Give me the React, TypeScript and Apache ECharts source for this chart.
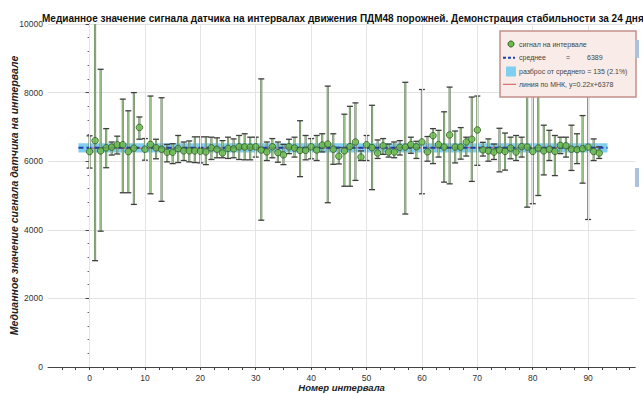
import React, { useEffect, useRef } from 'react';
import * as echarts from 'echarts';

const TITLE =
  'Медианное значение сигнала датчика на интервалах движения ПДМ48 порожней. Демонстрация стабильности за 24 дня';
const Y_NAME = 'Медианное значение сигнала датчика на интервале';
const X_NAME = 'Номер интервала';

// median value per interval (index 0..92)
const MEDIANS = [
  6280, 6600, 6300, 6390, 6410, 6480, 6480, 6280, 6380, 6985,
  6350, 6490, 6390, 6350, 6260, 6260, 6370, 6300, 6300, 6300,
  6290, 6270, 6390, 6350, 6240, 6375, 6360, 6420, 6415, 6410,
  6420, 6325, 6270, 6420, 6250, 6185, 6420, 6385, 6315, 6316,
  6420, 6325, 6470, 6500, 6350, 6145, 6300, 6425, 6560, 6120,
  6480, 6395, 6238, 6450, 6267, 6267, 6405, 6413, 6485, 6420,
  6560, 6275, 6745, 6485, 6413, 6765, 6413, 6413, 6560, 6640,
  6910, 6330, 6300, 6265, 6325, 6285, 6384, 6265, 6425, 6413,
  6286, 6384, 6300, 6350, 6286, 6462, 6450, 6350, 6340, 6365,
  6413, 6286, 6238,
];
// upper end of the spread per interval
const HIGHS = [
  6740, 10300, 8680, 6950, 6560, 6730, 7810, 7470, 8000, 7290,
  6660, 7900, 6640, 7850, 6490, 6510, 6750, 6560, 6590, 6710,
  6710, 6710, 6700, 6680, 6600, 6700, 6650, 6750, 6800, 6700,
  6700, 8400, 6560, 6660, 6560, 6490, 6640, 6700, 7180, 6750,
  6660, 6750, 6800, 8190, 6800, 6400, 7370, 7600, 7700, 6300,
  6750, 7630, 6620, 6660, 6500, 6560, 6600, 8300, 6700, 6580,
  8090, 6720, 6950, 6900, 7440, 8160, 6880, 6980, 6700, 7870,
  7900, 6550, 6650, 6500, 6960, 6820, 6700, 6750, 6700, 8600,
  8500, 8300, 7050, 6900, 6750, 6700, 6700, 7050, 6800, 7330,
  8400, 6650, 6420,
];
// lower end of the spread per interval
const LOWS = [
  5800, 3100, 3960, 5810, 6180, 6210, 5080, 5080, 4740, 6640,
  6030, 5050, 6070, 4830, 5980, 5930, 5960, 6020, 5980, 5960,
  5950, 5900, 6050, 6100, 6100, 6080, 6100, 6050, 6040, 6040,
  6120, 4280, 6020, 6100, 5970, 5900, 6220, 6120, 5550, 6040,
  6070, 6020, 6270, 4790, 5910, 5920, 5270, 5270, 5440, 6020,
  6020, 5170, 6080, 6200, 6120, 6100, 6180, 4460, 6230, 6080,
  5050, 6000, 5930, 6120, 5390, 5340, 5950, 6060, 6150, 5410,
  5880, 6150, 6000, 6050, 5690, 5740, 6070, 6020, 6120, 4660,
  4760, 5000, 5600, 6020, 5580, 6220, 6120, 5730, 5930, 5360,
  4300, 6020, 6080,
];

const MEAN = 6389;
const SPREAD = 135;
const SPREAD_PCT = '2.1%';
const FIT_SLOPE = 0.22;
const FIT_INTERCEPT = 6378;
const BAND_X = [-2, 93.5];
const X_GRID = [0, 10, 20, 30, 40, 50, 60, 70, 80, 90];
const Y_TICKS = { min: 0, max: 10000, interval: 2000 };
const X_RANGE = { min: -7.5, max: 98.5, interval: 2.5 };

const FONT = '"Liberation Sans", Arial, sans-serif';

export default function App() {
  const ref = useRef<HTMLDivElement>(null);

  useEffect(() => {
    if (!ref.current) return;
    const chart = echarts.init(ref.current, undefined, { renderer: 'svg' });

    const points = MEDIANS.map((v, i) => [i, v]);
    const bars = MEDIANS.map((_, i) => [i, LOWS[i], HIGHS[i]]);
    const lastX = MEDIANS.length - 1;
    const fit = [
      [0, FIT_INTERCEPT],
      [lastX, FIT_INTERCEPT + FIT_SLOPE * lastX],
    ];

    const legendText = (x: number, y: number, text: string) => ({
      type: 'text',
      x,
      y,
      z: 101,
      style: { text, fontSize: 7, fill: '#444', verticalAlign: 'middle', fontFamily: FONT },
    });

    const option: any = {
      animation: false,
      textStyle: { fontFamily: FONT },
      title: {
        text: TITLE,
        left: 37,
        top: 8,
        textStyle: { fontSize: 10, fontWeight: 'bold', color: '#111', fontFamily: FONT },
      },
      grid: { left: 48, right: 7.8, top: 24, bottom: 27, containLabel: false, outerBoundsMode: 'none' },
      xAxis: {
        type: 'value',
        min: X_RANGE.min,
        max: X_RANGE.max,
        interval: X_RANGE.interval,
        name: X_NAME,
        nameLocation: 'middle',
        nameGap: 15,
        nameMoveOverlap: false,
        nameTextStyle: { fontSize: 9.5, fontWeight: 'bold', fontStyle: 'italic', color: '#222' },
        axisLine: { lineStyle: { color: '#444', width: 1 } },
        axisTick: { length: 3, lineStyle: { color: '#444' } },
        axisLabel: {
          fontSize: 8.5,
          color: '#333',
          margin: 6,
          showMinLabel: false,
          showMaxLabel: false,
          formatter: (v: number) => (Math.abs(v % 10) < 1e-6 ? String(v) : ''),
        },
        splitLine: { show: false },
      },
      yAxis: {
        type: 'value',
        min: Y_TICKS.min,
        max: Y_TICKS.max,
        interval: Y_TICKS.interval,
        name: Y_NAME,
        nameLocation: 'middle',
        nameGap: 29,
        nameMoveOverlap: false,
        nameTextStyle: { fontSize: 10.5, fontWeight: 'bold', fontStyle: 'italic', color: '#222' },
        axisLine: { show: true, lineStyle: { color: '#444', width: 1 } },
        axisTick: { show: true, length: 4, lineStyle: { color: '#444' } },
        minorTick: { show: true, splitNumber: 5, length: 2, lineStyle: { color: '#666' } },
        axisLabel: { fontSize: 8.5, color: '#333', margin: 5, formatter: (v: number) => String(v) },
        splitLine: { show: true, lineStyle: { color: '#e2e2e2', width: 1 } },
      },
      series: [
        {
          name: 'линия по МНК',
          type: 'line',
          data: fit,
          symbol: 'none',
          z: 1,
          lineStyle: { color: '#d9534f', width: 1 },
          markLine: {
            silent: true,
            symbol: 'none',
            label: { show: false },
            lineStyle: { color: '#e4e4e4', width: 1, type: 'solid' },
            data: X_GRID.map((x) => ({ xAxis: x })),
          },
        },
        {
          name: 'разброс',
          type: 'line',
          data: [],
          z: 2,
          markArea: {
            silent: true,
            itemStyle: { color: 'rgba(90, 190, 235, 0.75)' },
            data: [[{ xAxis: BAND_X[0], yAxis: MEAN - SPREAD }, { xAxis: BAND_X[1], yAxis: MEAN + SPREAD }]],
          },
        },
        {
          name: 'error',
          type: 'custom',
          z: 3,
          clip: true,
          data: bars,
          renderItem: (params: any, api: any) => {
            const x = api.value(0);
            const pLo = api.coord([x, api.value(1)]);
            const pHi = api.coord([x, api.value(2)]);
            const hw = 3;
            return {
              type: 'group',
              children: [
                {
                  type: 'line',
                  shape: { x1: pHi[0], y1: pHi[1], x2: pLo[0], y2: pLo[1] },
                  style: { stroke: '#667a5e', lineWidth: 2.1 },
                },
                {
                  type: 'line',
                  shape: { x1: pHi[0], y1: pHi[1], x2: pLo[0], y2: pLo[1] },
                  style: { stroke: '#a3d090', lineWidth: 0.9 },
                },
                {
                  type: 'line',
                  shape: { x1: pHi[0] - hw, y1: pHi[1], x2: pHi[0] + hw, y2: pHi[1] },
                  style: { stroke: '#3f3f3f', lineWidth: 1.3 },
                },
                {
                  type: 'line',
                  shape: { x1: pLo[0] - hw, y1: pLo[1], x2: pLo[0] + hw, y2: pLo[1] },
                  style: { stroke: '#3f3f3f', lineWidth: 1.3 },
                },
              ],
            };
          },
        },
        {
          name: 'среднее',
          type: 'line',
          data: [
            [BAND_X[0], MEAN],
            [BAND_X[1], MEAN],
          ],
          symbol: 'none',
          z: 4,
          lineStyle: { color: '#1c3fa8', width: 2, type: [5, 3] },
        },
        {
          name: 'сигнал на интервале',
          type: 'scatter',
          data: points,
          z: 5,
          symbol: 'circle',
          symbolSize: 6.5,
          itemStyle: { color: '#6cbc48', borderColor: '#2f5a26', borderWidth: 1 },
        },
      ],
      graphic: [
        {
          type: 'group',
          x: 500,
          y: 31,
          z: 100,
          children: [
            {
              type: 'rect',
              z: 100,
              shape: { x: 0, y: 0, width: 136, height: 66 },
              style: { fill: '#f9ece8', stroke: '#c4908b', lineWidth: 1.5 },
            },
            {
              type: 'circle',
              z: 101,
              shape: { cx: 11, cy: 13, r: 3 },
              style: { fill: '#6cbc48', stroke: '#2f5a26', lineWidth: 1 },
            },
            legendText(19, 13, 'сигнал на интервале'),
            {
              type: 'line',
              z: 101,
              shape: { x1: 3, y1: 26.7, x2: 15, y2: 26.7 },
              style: { stroke: '#1c3fa8', lineWidth: 2, lineDash: [3, 2] },
            },
            legendText(19, 26.7, 'среднее'),
            legendText(66, 26.7, '='),
            legendText(87, 26.7, String(MEAN)),
            {
              type: 'rect',
              z: 101,
              shape: { x: 6, y: 35.5, width: 10, height: 10 },
              style: { fill: '#7fcff0' },
            },
            legendText(19, 40.7, `разброс от среднего = ${SPREAD} (${SPREAD_PCT})`),
            {
              type: 'line',
              z: 101,
              shape: { x1: 3, y1: 53.3, x2: 16, y2: 53.3 },
              style: { stroke: '#d9534f', lineWidth: 1 },
            },
            legendText(19, 53.3, `линия по МНК, y=${FIT_SLOPE}x+${FIT_INTERCEPT}`),
          ],
        },
        { type: 'rect', shape: { x: 635, y: 40, width: 4, height: 18 }, style: { fill: '#a9c3de' }, z: 100 },
        { type: 'rect', shape: { x: 635, y: 168, width: 4, height: 19 }, style: { fill: '#a9c3de' }, z: 100 },
      ],
    };

    chart.setOption(option);
    return () => chart.dispose();
  }, []);

  return <div ref={ref} style={{ width: 643, height: 394, position: 'absolute', left: 0, top: 0 }} />;
}
